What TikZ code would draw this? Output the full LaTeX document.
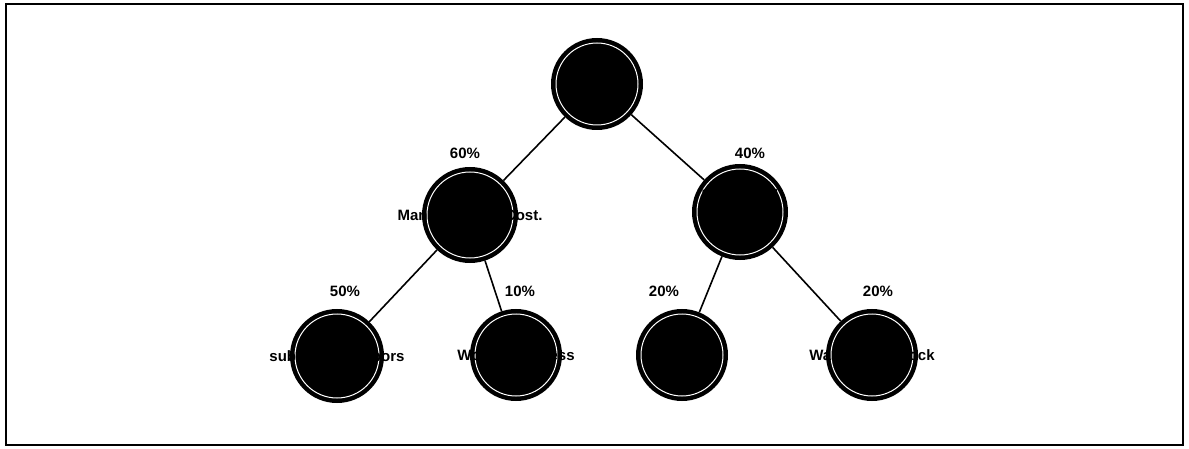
\documentclass[tikz,border=0pt]{standalone}
\usepackage{fontspec}
\setmainfont{Liberation Sans}
\begin{document}
\begin{tikzpicture}[x=1pt,y=-1pt,
  costnode/.style={circle, fill=black, draw=black, line width=2pt,
    minimum size=#1, inner sep=0pt},
  costnode/.default=90pt,
  costtext/.style={align=center, inner sep=0pt,
    font=\bfseries\fontsize{15}{17}\selectfont, text=black},
  share/.style={font=\bfseries\fontsize{15}{16}\selectfont},
  branch/.style={line width=1.6pt}]
% frame
\useasboundingbox (0,0) rectangle (1189,449);
\draw[line width=2pt] (6,4) rectangle (1183,445);
% cost tree nodes
\node[costnode=90pt] (root) at (597,84) {};
\node[costnode=94pt] (mfg) at (470,215) {};
\node[costnode=94pt] (pur) at (740,212) {};
\node[costnode=92pt] (sub) at (337,356) {};
\node[costnode=90pt] (wip) at (516,355) {};
\node[costnode=90pt] (mat) at (682,355) {};
\node[costnode=90pt] (stk) at (872,355) {};
% inner white rings
\foreach \n/\r in {root/41, mfg/43, pur/43, sub/42, wip/41, mat/41, stk/41}
  \draw[white, line width=1pt] (\n.center) circle (\r);
% labels inside the circles
\node[costtext] (troot) at (root.center) {Total\\Unit Cost\\ };
\node[costtext] (tmfg) at (mfg.center) {Direct\\Manufacturing Cost.\\ };
\node[costtext] (tpur) at (pur.center) {Purchased\\Material\\ };
\node[costtext] (tsub) at (sub.center) {Direct\\subcontract labors\\Labor};
\node[costtext] (twip) at (wip.center) {Indirect\\Work in Process\\ };
\node[costtext] (tmat) at (mat.center) {Raw\\Materials\\Parts};
\node[costtext] (tstk) at (stk.center) {Finished\\Warehouse Stock\\ };
% connectors
\draw[branch] (root) -- (mfg);
\draw[branch] (root) -- (pur);
\draw[branch] (mfg) -- (sub);
\draw[branch] (mfg) -- (wip);
\draw[branch] (pur) -- (mat);
\draw[branch] (pur) -- (stk);
% percentage shares
\node[share] (pmfg) at (465,153) {60\%};
\node[share] (ppur) at (750,153) {40\%};
\node[share] (psub) at (345,291) {50\%};
\node[share] (pwip) at (520,291) {10\%};
\node[share] (pmat) at (664,291) {20\%};
\node[share] (pstk) at (878,291) {20\%};
\end{tikzpicture}
\end{document}
